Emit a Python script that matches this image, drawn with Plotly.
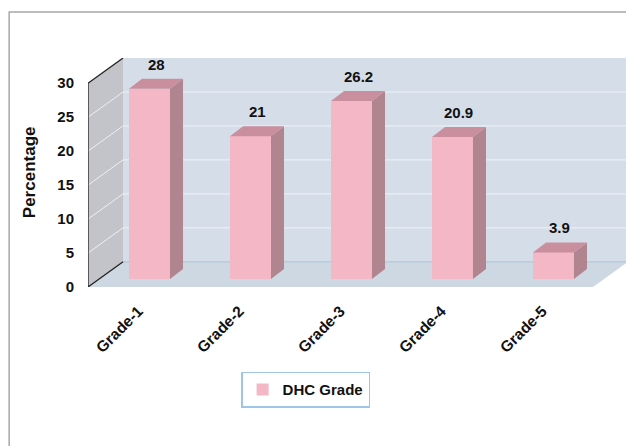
import plotly.graph_objects as go

categories = ["Grade-1", "Grade-2", "Grade-3", "Grade-4", "Grade-5"]
values = [28, 21, 26.2, 20.9, 3.9]
value_labels = ["28", "21", "26.2", "20.9", "3.9"]
series_name = "DHC Grade"
y_ticks = [0, 5, 10, 15, 20, 25, 30]

# pseudo-3D geometry (data units)
DX, DY = 0.347, 3.71          # full depth vector of the chart box
BX, BY = 0.109, 1.19          # bar front-face offset (depth)
SX, SY = 0.129, 1.47          # bar depth (side face)
W = 0.406                     # bar width
YMAX = 30
n = len(categories)
xs = list(range(n))

FRONT = "#f3b7c6"
SIDE = "#b1858f"
TOP = "#c98f9f"

fig = go.Figure()

x_left, x_right = -0.5, n - 0.5
shapes = []
# back wall
shapes.append(dict(type="rect", xref="x", yref="y", x0=x_left + DX, x1=x_right + DX, y0=DY, y1=YMAX + DY,
                   fillcolor="#d5dee8", line=dict(width=0), layer="below"))
# floor
shapes.append(dict(type="path", xref="x", yref="y",
                   path=f"M {x_left},0 L {x_right},0 L {x_right+DX},{DY} L {x_left+DX},{DY} Z",
                   fillcolor="#cdd8e2", line=dict(width=0), layer="below"))
# back wall grid lines
for t in y_ticks[1:-1]:
    shapes.append(dict(type="line", xref="x", yref="y", x0=x_left + DX, x1=x_right + DX, y0=t + DY, y1=t + DY,
                       line=dict(color="#eef2f7", width=1), layer="below"))
shapes.append(dict(type="line", xref="x", yref="y", x0=x_left + DX, x1=x_right + DX, y0=DY, y1=DY,
                   line=dict(color="#a9c3da", width=1), layer="below"))
# left wall
shapes.append(dict(type="path", xref="x", yref="y",
                   path=f"M {x_left},0 L {x_left},{YMAX} L {x_left+DX},{YMAX+DY} L {x_left+DX},{DY} Z",
                   fillcolor="#c3c4c9", line=dict(width=0), layer="below"))
for t in y_ticks[1:-1]:
    shapes.append(dict(type="line", xref="x", yref="y", x0=x_left, x1=x_left + DX, y0=t, y1=t + DY,
                       line=dict(color="#eef0f3", width=1), layer="below"))
shapes.append(dict(type="path", xref="x", yref="y",
                   path=f"M {x_left+DX},{YMAX+DY} L {x_left},{YMAX} L {x_left},0 L {x_left+DX},{DY}",
                   line=dict(color="#222222", width=1.3), layer="below"))
# outer frame
shapes.append(dict(type="rect", xref="paper", yref="paper", x0=-0.146, x1=1.2, y0=-1.5, y1=1.201,
                   line=dict(color="#a8a8a8", width=1.5), fillcolor="rgba(0,0,0,0)", layer="below"))

# bars (front faces)
fig.add_trace(go.Bar(x=[x + BX for x in xs], y=values, base=BY, width=W,
                     marker=dict(color=FRONT, line=dict(width=0)), name=f"<b>{series_name}</b>",
                     showlegend=True, hoverinfo="skip"))

# side and top faces
side_x, side_y, top_x, top_y = [], [], [], []
for x, v in zip(xs, values):
    xl = x + BX - W / 2
    xr = xl + W
    side_x += [xr, xr, xr + SX, xr + SX, xr, None]
    side_y += [BY, BY + v, BY + v + SY, BY + SY, BY, None]
    top_x += [xl, xr, xr + SX, xl + SX, xl, None]
    top_y += [BY + v, BY + v, BY + v + SY, BY + v + SY, BY + v, None]
fig.add_trace(go.Scatter(x=side_x, y=side_y, fill="toself", fillcolor=SIDE, mode="lines",
                         line=dict(width=0, color=SIDE), showlegend=False, hoverinfo="skip"))
fig.add_trace(go.Scatter(x=top_x, y=top_y, fill="toself", fillcolor=TOP, mode="lines",
                         line=dict(width=0, color=TOP), showlegend=False, hoverinfo="skip"))

annotations = []
for x, v, lab in zip(xs, values, value_labels):
    annotations.append(dict(x=x + BX + SX / 2, y=BY + v + SY, text=f"<b>{lab}</b>", showarrow=False,
                            yanchor="bottom", yshift=4, font=dict(size=15, color="#111111")))
# y-axis title
annotations.append(dict(xref="paper", yref="paper", x=-0.108, y=0.5, text="<b>Percentage</b>",
                        textangle=-90, showarrow=False, xanchor="center", yanchor="middle",
                        font=dict(size=17, color="#111111")))

# the page body has an 8px margin; the figure margins compensate for it
fig.update_layout(
    width=634, height=446,
    margin=dict(l=80, r=14, t=50, b=167, autoexpand=False),
    paper_bgcolor="white", plot_bgcolor="rgba(0,0,0,0)",
    font=dict(family="Liberation Sans, Arial, sans-serif", color="#111111"),
    shapes=shapes, annotations=annotations,
    bargap=0,
    xaxis=dict(range=[x_left, x_right + DX], tickmode="array", tickvals=xs, automargin=False,
               ticktext=[f"<b>{c}</b>" for c in categories], tickangle=-45,
               showgrid=False, zeroline=False, showline=False, ticks="outside", ticklen=8,
               tickcolor="rgba(0,0,0,0)", tickfont=dict(size=15.5, color="#111111")),
    yaxis=dict(range=[0, YMAX + DY], tickmode="array", tickvals=y_ticks, automargin=False,
               ticktext=[f"<b>{t}</b>" for t in y_ticks],
               showgrid=False, zeroline=False, showline=False, ticks="outside", ticklen=10,
               tickcolor="rgba(0,0,0,0)", tickfont=dict(size=15, color="#111111")),
    legend=dict(orientation="h", x=0.403, xanchor="center", y=-0.37, yanchor="top",
                bordercolor="#9ec4e8", borderwidth=1.5, bgcolor="white",
                font=dict(size=15, color="#111111")),
)

fig.write_html("out.html")
